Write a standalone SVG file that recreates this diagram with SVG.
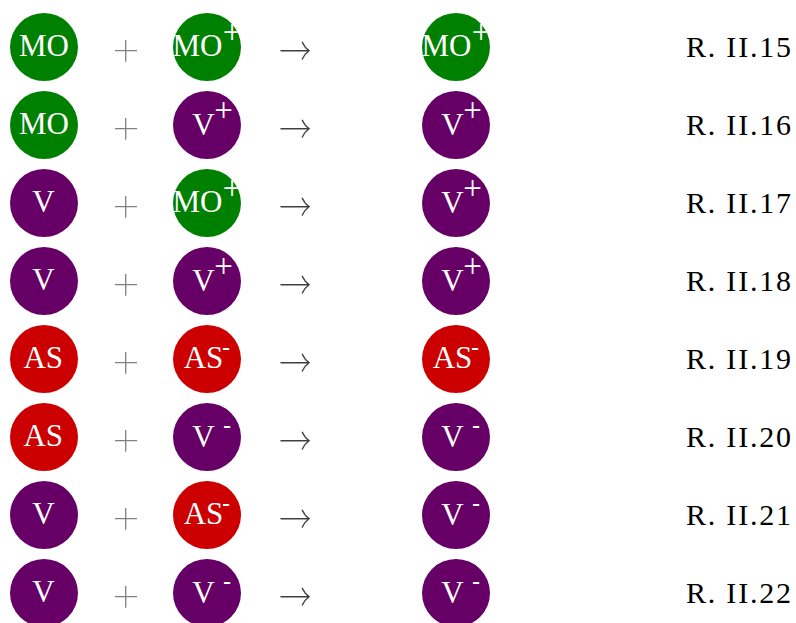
<svg xmlns="http://www.w3.org/2000/svg" width="796" height="623" viewBox="0 0 796 623">
<style>
  .mo { fill: #008000; }
  .v { fill: #660066; }
  .as { fill: #cc0000; }
  .t { font-family: "Liberation Serif", "Times New Roman", serif; font-size: 31px; fill: #ffffff; text-anchor: middle; }
  .sp { font-family: "Liberation Serif", "Times New Roman", serif; font-size: 33px; fill: #ffffff; text-anchor: middle; }
  .sm { font-family: "Liberation Serif", "Times New Roman", serif; font-size: 23px; font-weight: bold; fill: #ffffff; text-anchor: middle; }
  .lab { font-family: "Liberation Serif", "Times New Roman", serif; font-size: 30px; fill: #000000; }
  .plus { stroke: #808080; stroke-width: 1.3; fill: none; }
  .arr { stroke: #404040; stroke-width: 1.4; fill: none; stroke-linecap: round; }
</style>
<defs>
  <g id="opPlus"><path class="plus" d="M115,0 H137 M125.7,-10.7 V11"/></g>
  <g id="opArrow"><path class="arr" d="M281,0 H309 M302.3,-8.4 Q305,-2.7 309,0 Q305,2.8 302.3,8.3"/></g>
</defs>

<!-- Row 1 (cy=47) -->
<g id="r1a"><circle class="mo" cx="44" cy="47" r="34"/><text class="t" x="44" y="55.5">MO</text></g>
<g id="r1b"><circle class="mo" cx="207" cy="47" r="34"/><text class="t" x="197.5" y="56">MO</text><text class="sp" x="232" y="42.8">+</text></g>
<g id="r1c"><circle class="mo" cx="456" cy="47" r="34"/><text class="t" x="446.5" y="56">MO</text><text class="sp" x="481" y="42.8">+</text></g>
<g id="r1l"><text class="lab" x="686" y="57" textLength="105" lengthAdjust="spacing">R. II.15</text></g>

<!-- Row 2 (cy=125) -->
<g id="r2a"><circle class="mo" cx="44" cy="125" r="34"/><text class="t" x="44" y="133.5">MO</text></g>
<g id="r2b"><circle class="v" cx="207" cy="125" r="34"/><text class="t" x="203.5" y="134.5">V</text><text class="sp" x="223.5" y="120.8">+</text></g>
<g id="r2c"><circle class="v" cx="456" cy="125" r="34"/><text class="t" x="452.5" y="134.5">V</text><text class="sp" x="472.5" y="120.8">+</text></g>
<g id="r2l"><text class="lab" x="686" y="135" textLength="105" lengthAdjust="spacing">R. II.16</text></g>

<!-- Row 3 (cy=203) -->
<g id="r3a"><circle class="v" cx="44" cy="203" r="34"/><text class="t" x="43.5" y="212">V</text></g>
<g id="r3b"><circle class="mo" cx="207" cy="203" r="34"/><text class="t" x="197.5" y="212">MO</text><text class="sp" x="232" y="198.8">+</text></g>
<g id="r3c"><circle class="v" cx="456" cy="203" r="34"/><text class="t" x="452.5" y="212.5">V</text><text class="sp" x="472.5" y="198.8">+</text></g>
<g id="r3l"><text class="lab" x="686" y="213" textLength="105" lengthAdjust="spacing">R. II.17</text></g>

<!-- Row 4 (cy=281) -->
<g id="r4a"><circle class="v" cx="44" cy="281" r="34"/><text class="t" x="43.5" y="290">V</text></g>
<g id="r4b"><circle class="v" cx="207" cy="281" r="34"/><text class="t" x="203.5" y="290.5">V</text><text class="sp" x="223.5" y="276.8">+</text></g>
<g id="r4c"><circle class="v" cx="456" cy="281" r="34"/><text class="t" x="452.5" y="290.5">V</text><text class="sp" x="472.5" y="276.8">+</text></g>
<g id="r4l"><text class="lab" x="686" y="291" textLength="105" lengthAdjust="spacing">R. II.18</text></g>

<!-- Row 5 (cy=359) -->
<g id="r5a"><circle class="as" cx="44" cy="359" r="34"/><text class="t" x="43.3" y="368.3">AS</text></g>
<g id="r5b"><circle class="as" cx="207" cy="359" r="34"/><text class="t" x="203.5" y="368.3">AS</text><text class="sm" x="226" y="354.8">-</text></g>
<g id="r5c"><circle class="as" cx="456" cy="359" r="34"/><text class="t" x="452.5" y="368.3">AS</text><text class="sm" x="475" y="354.8">-</text></g>
<g id="r5l"><text class="lab" x="686" y="369" textLength="105" lengthAdjust="spacing">R. II.19</text></g>

<!-- Row 6 (cy=437) -->
<g id="r6a"><circle class="as" cx="44" cy="437" r="34"/><text class="t" x="43.3" y="446.3">AS</text></g>
<g id="r6b"><circle class="v" cx="207" cy="437" r="34"/><text class="t" x="203.5" y="447.3">V</text><text class="sm" x="227" y="432.8">-</text></g>
<g id="r6c"><circle class="v" cx="456" cy="437" r="34"/><text class="t" x="452.5" y="447.3">V</text><text class="sm" x="476" y="432.8">-</text></g>
<g id="r6l"><text class="lab" x="686" y="447" textLength="105" lengthAdjust="spacing">R. II.20</text></g>

<!-- Row 7 (cy=515) -->
<g id="r7a"><circle class="v" cx="44" cy="515" r="34"/><text class="t" x="43.5" y="524">V</text></g>
<g id="r7b"><circle class="as" cx="207" cy="515" r="34"/><text class="t" x="203.5" y="524.3">AS</text><text class="sm" x="226" y="510.8">-</text></g>
<g id="r7c"><circle class="v" cx="456" cy="515" r="34"/><text class="t" x="452.5" y="525.3">V</text><text class="sm" x="476" y="510.8">-</text></g>
<g id="r7l"><text class="lab" x="686" y="525" textLength="105" lengthAdjust="spacing">R. II.21</text></g>

<!-- Row 8 (cy=593) -->
<g id="r8a"><circle class="v" cx="44" cy="593" r="34"/><text class="t" x="43.5" y="602">V</text></g>
<g id="r8b"><circle class="v" cx="207" cy="593" r="34"/><text class="t" x="203.5" y="603.3">V</text><text class="sm" x="227" y="588.8">-</text></g>
<g id="r8c"><circle class="v" cx="456" cy="593" r="34"/><text class="t" x="452.5" y="603.3">V</text><text class="sm" x="476" y="588.8">-</text></g>
<g id="r8l"><text class="lab" x="686" y="603" textLength="105" lengthAdjust="spacing">R. II.22</text></g>

<!-- operators -->
<g id="connectors">
  <use href="#opPlus" y="50.7"/><use href="#opArrow" y="50.7"/>
  <use href="#opPlus" y="128.7"/><use href="#opArrow" y="128.7"/>
  <use href="#opPlus" y="206.7"/><use href="#opArrow" y="206.7"/>
  <use href="#opPlus" y="284.7"/><use href="#opArrow" y="284.7"/>
  <use href="#opPlus" y="362.7"/><use href="#opArrow" y="362.7"/>
  <use href="#opPlus" y="440.7"/><use href="#opArrow" y="440.7"/>
  <use href="#opPlus" y="518.7"/><use href="#opArrow" y="518.7"/>
  <use href="#opPlus" y="596.7"/><use href="#opArrow" y="596.7"/>
</g>
</svg>
